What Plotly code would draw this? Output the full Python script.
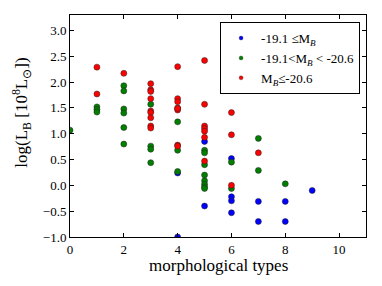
import plotly.graph_objects as go

# Blue: -19.1 <= M_B
blue_x = [4, 4, 5, 5, 6, 6, 6, 6, 7, 7, 8, 8, 9]
blue_y = [0.24, -1.0, 0.85, -0.40, 0.52, -0.22, -0.30, -0.53, -0.31, -0.70, -0.31, -0.70, -0.10]

# Green: -19.1 < M_B < -20.6
green_x = [0, 1, 1, 1, 2, 2, 2, 2, 2, 2, 3, 3, 3, 3, 4, 4, 4,
           5, 5, 5, 5, 5, 5, 5, 5, 6, 6, 7, 7, 8]
green_y = [1.07, 1.52, 1.47, 1.42, 1.93, 1.83, 1.48, 1.40, 1.12, 0.80,
           1.57, 0.76, 0.70, 0.44, 1.23, 0.68, 0.27,
           0.68, 0.63, 0.40, 0.20, 0.09, 0.02, -0.03, -0.06,
           0.45, -0.06, 0.91, 0.29, 0.03]

# Red: M_B <= -20.6
red_x = [1, 1, 2, 3, 3, 3, 3, 3, 3, 3, 3, 3,
         4, 4, 4, 4, 4, 4, 4, 4,
         5, 5, 5, 5, 5, 5, 5, 6, 6, 6, 7]
red_y = [2.29, 1.77, 2.17, 1.97, 1.85, 1.82, 1.68, 1.44, 1.41, 1.31, 1.15, 1.11,
         2.30, 1.68, 1.62, 1.50, 1.46, 1.49, 0.78, 0.76,
         2.42, 1.57, 1.15, 1.10, 1.05, 0.93, 0.47, 1.41, 0.98, 0.00, 0.63]

x_ticks = [0, 2, 4, 6, 8, 10]
y_ticks = [-1.0, -0.5, 0.0, 0.5, 1.0, 1.5, 2.0, 2.5, 3.0]

font = "Liberation Serif"

fig = go.Figure()
series = [
    (blue_x, blue_y, "#0000ff", "-19.1 ≤M<sub><i>B</i></sub>"),
    (green_x, green_y, "#007f00", "-19.1<M<sub><i>B</i></sub> < -20.6"),
    (red_x, red_y, "#ff0000", "M<sub><i>B</i></sub>≤-20.6"),
]
for xs, ys, col, name in series:
    fig.add_trace(go.Scatter(
        x=xs, y=ys, mode="markers", name=name, showlegend=False,
        marker=dict(color=col, size=6, line=dict(color="#222222", width=0.5)),
    ))
# legend entries with smaller symbols, as in the reference
for xs, ys, col, name in series:
    fig.add_trace(go.Scatter(
        x=[None], y=[None], mode="markers", name=name, showlegend=True,
        marker=dict(color=col, size=4, line=dict(color="#222222", width=0.3)),
    ))

# page body has an 8px margin, so the figure is sized to fit the window after that offset
fig.update_layout(
    width=374, height=278,
    margin=dict(l=62, r=16, t=7, b=49),
    paper_bgcolor="white", plot_bgcolor="white",
    font=dict(family=font, color="black", size=13),
    showlegend=True,
    legend=dict(
        x=0.98, y=0.968, xanchor="right", yanchor="top",
        bordercolor="black", borderwidth=1, bgcolor="white",
        font=dict(family=font, size=13),
        itemwidth=30, tracegroupgap=0,
    ),
    annotations=[
        dict(text="morphological types", xref="paper", yref="paper",
             x=0.5, y=-0.128, xanchor="center", yanchor="middle",
             showarrow=False, font=dict(family=font, size=17)),
        dict(text="log(L<sub>B</sub> [10<sup>8</sup>L<sub>⊙</sub>])", xref="paper", yref="paper",
             x=-0.162, y=0.56, xanchor="center", yanchor="middle", textangle=-90,
             showarrow=False, font=dict(family=font, size=17)),
    ],
)
fig.update_xaxes(
    range=[0, 11], tickvals=x_ticks, ticktext=[str(v) for v in x_ticks],
    ticks="inside", ticklen=4, tickcolor="black",
    showline=True, linecolor="black", linewidth=1, mirror="ticks",
    showgrid=False, zeroline=False, automargin=False,
    tickfont=dict(family=font, size=13),
)
fig.update_yaxes(
    range=[-1.0, 3.3], tickvals=y_ticks, ticktext=[("−" if v < 0 else "") + f"{abs(v):.1f}" for v in y_ticks],
    ticks="inside", ticklen=4, tickcolor="black",
    showline=True, linecolor="black", linewidth=1, mirror="ticks",
    showgrid=False, zeroline=False, automargin=False,
    tickfont=dict(family=font, size=13),
)

fig.write_html("out.html")
